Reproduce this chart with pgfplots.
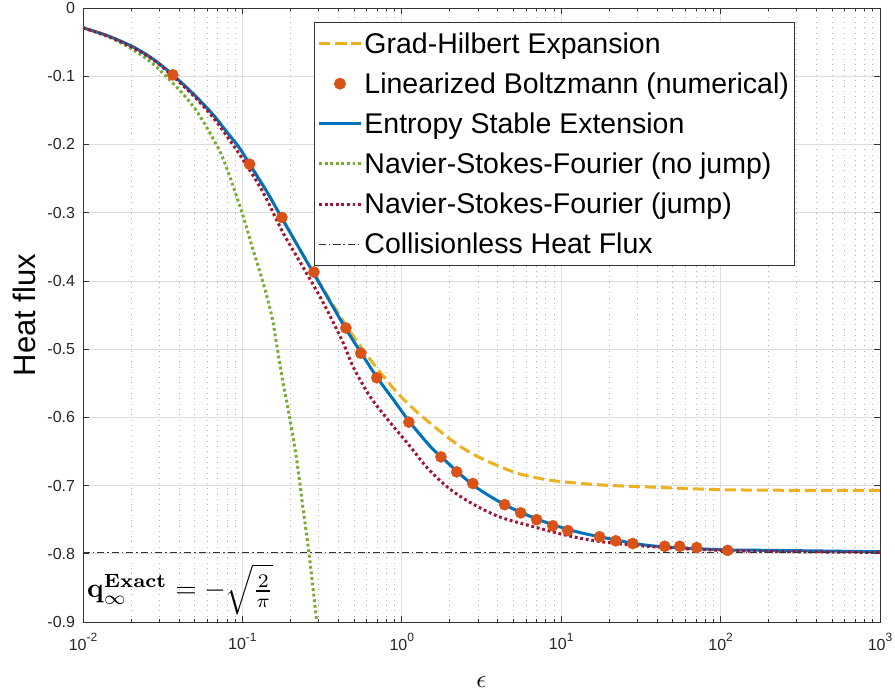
\documentclass[border=0pt]{standalone}
\usepackage{graphicx}
\usepackage[no-math]{fontspec}
\setmainfont{Liberation Sans}
\usepackage{pgfplots}
\pgfplotsset{compat=1.18}
\definecolor{mOrange}{rgb}{0.929,0.694,0.125}
\definecolor{mRed}{rgb}{0.85,0.325,0.098}
\definecolor{mBlue}{rgb}{0,0.447,0.741}
\definecolor{mGreen}{rgb}{0.466,0.674,0.188}
\definecolor{mDark}{rgb}{0.635,0.078,0.184}
\pgfplotsset{mylegimg/.style={legend image code/.code={\draw[mark repeat=2,mark phase=2,##1] plot coordinates {(0pt,0pt) (21pt,0pt) (42pt,0pt)};}}}
\newcommand{\tp}[1]{10\raisebox{0.55em}{\fontsize{12}{12}\selectfont #1}}
\begin{document}
\begin{tikzpicture}
\begin{axis}[
  scale only axis, width=797pt, height=614pt,
  xmode=log, xmin=1e-2, xmax=1e3, ymin=-0.9, ymax=0,
  xtick={1e-2,1e-1,1,10,100,1000},
  xticklabels={\tp{-2},\tp{-1},\tp{0},\tp{1},\tp{2},\tp{3}},
  ytick={-0.9,-0.8,-0.7,-0.6,-0.5,-0.4,-0.3,-0.2,-0.1,0},
  yticklabels={-0.9,-0.8,-0.7,-0.6,-0.5,-0.4,-0.3,-0.2,-0.1,0},
  minor y tick num=0,
  xticklabel style={font=\fontsize{16}{18}\selectfont, text=black!85, yshift=-7.3pt},
  yticklabel style={font=\fontsize{16}{18}\selectfont, text=black!85, xshift=-4.4pt},
  xmajorgrids, ymajorgrids, xminorgrids,
  major grid style={black!13, line width=0.6pt},
  minor grid style={black!30, line width=0.6pt, dash pattern=on 1pt off 4.3pt},
  tick align=inside, major tick length=6pt, minor tick length=3pt,
  every tick/.style={black!80, line width=0.6pt},
  axis line style={black!80, line width=0.7pt},
  xlabel={\scalebox{2.5}{$\epsilon$}},
  xlabel style={at={(axis description cs:0.5,-0.0977)}, anchor=center},
  ylabel={Heat flux},
  ylabel style={font=\fontsize{31}{35}\selectfont, at={(axis description cs:-0.074,0.5)}, anchor=center},
  legend cell align=left,
  mylegimg,
  legend style={at={(axis description cs:0.290,0.977)}, anchor=north west,
    draw=black!80, fill=white, line width=0.7pt, font=\fontsize{28.5}{33}\selectfont,
    row sep=14pt, inner xsep=3pt, inner ysep=8pt,
    nodes={inner sep=2pt, text=black}},
  clip=true,
]
% Grad-Hilbert
\addplot[mOrange, line width=3pt, dash pattern=on 11pt off 5pt, smooth, tension=0.5] coordinates {
(0.01,-0.029) (0.0144,-0.041) (0.0206,-0.057) (0.0275,-0.0748) (0.0366,-0.098) (0.05,-0.1275) (0.0653,-0.156) (0.08,-0.182) (0.0964,-0.206)
(0.143,-0.270) (0.2,-0.330) (0.3,-0.400) (0.44,-0.463) (0.6,-0.508) (0.8,-0.545)
(1.0,-0.571) (1.3,-0.596) (1.73,-0.620) (2.3,-0.642) (3.08,-0.659) (4.2,-0.673)
(5.49,-0.683) (7.5,-0.690) (9.8,-0.694) (17.4,-0.699) (34.4,-0.702) (98.6,-0.706)
(313,-0.707) (1000,-0.707)};
\addlegendentry{Grad-Hilbert Expansion}
% Linearized Boltzmann
\addplot[only marks, mark=*, mark size=5.6pt, color=mRed, fill=mRed, mylegimg] coordinates {
(0.0366,-0.098) (0.111,-0.229) (0.177,-0.307) (0.281,-0.387) (0.446,-0.469)
(0.553,-0.506) (0.697,-0.542) (1.107,-0.607) (1.76,-0.658) (2.21,-0.680)
(2.79,-0.697) (4.42,-0.728) (5.57,-0.740) (7.01,-0.750) (8.85,-0.759)
(11.0,-0.766) (17.4,-0.775) (22.0,-0.781) (28.1,-0.785) (44.6,-0.789)
(55.4,-0.789) (70.8,-0.791) (110.7,-0.795)};
\addlegendentry{Linearized Boltzmann (numerical)}
% Entropy stable
\addplot[mBlue, line width=3pt, smooth, tension=0.5] coordinates {
(0.01,-0.029) (0.0144,-0.041) (0.0206,-0.057) (0.0275,-0.0748) (0.0366,-0.098) (0.05,-0.1275) (0.0653,-0.156) (0.08,-0.182) (0.0964,-0.206)
(0.111,-0.229) (0.143,-0.270) (0.172,-0.303) (0.2767,-0.387) (0.44,-0.468)
(0.561,-0.507) (0.697,-0.541) (0.879,-0.573) (1.122,-0.607) (1.5,-0.642)
(1.73,-0.656) (2.79,-0.699) (4.42,-0.728) (7.02,-0.749) (11.3,-0.765)
(17.4,-0.775) (35.9,-0.788) (98.6,-0.794) (212,-0.795) (1000,-0.797)};
\addlegendentry{Entropy Stable Extension}
% NSF no jump
\addplot[mGreen, line width=3pt, dash pattern=on 2.8pt off 2.8pt, smooth, tension=0.5] coordinates {
(0.01,-0.029) (0.0144,-0.042) (0.0206,-0.061) (0.0275,-0.082) (0.0366,-0.110) (0.045,-0.133) (0.054,-0.158) (0.0722,-0.210)
(0.0859,-0.256) (0.1007,-0.304) (0.1165,-0.354) (0.1346,-0.402) (0.153,-0.452)
(0.164,-0.493) (0.1795,-0.548) (0.1986,-0.602) (0.220,-0.665) (0.239,-0.730)
(0.261,-0.797) (0.293,-0.900) (0.300,-0.920)};
\addlegendentry{Navier-Stokes-Fourier (no jump)}
% NSF jump
\addplot[mDark, line width=3pt, dash pattern=on 2.8pt off 2.8pt, smooth, tension=0.5] coordinates {
(0.01,-0.029) (0.0144,-0.0415) (0.0206,-0.058) (0.0275,-0.0755) (0.0366,-0.100) (0.05,-0.130) (0.0653,-0.160) (0.08,-0.188) (0.1007,-0.222)
(0.1346,-0.270) (0.1795,-0.329) (0.239,-0.379) (0.320,-0.431) (0.427,-0.490)
(0.493,-0.525) (0.630,-0.569) (0.841,-0.607) (1.122,-0.642) (1.455,-0.675)
(2.0,-0.705) (2.79,-0.727) (4.11,-0.746) (6.62,-0.760) (10.8,-0.773)
(17.4,-0.782) (34.4,-0.789) (98.6,-0.795) (300,-0.797) (1000,-0.798)};
\addlegendentry{Navier-Stokes-Fourier (jump)}
% Collisionless
\addplot[black!80, line width=1.2pt, dash pattern=on 7pt off 3pt on 1.5pt off 3pt] coordinates {
(0.01,-0.7979) (1000,-0.7979)};
\addlegendentry{Collisionless Heat Flux}
\node[anchor=west, inner sep=0pt] at (axis cs:0.0106,-0.852)
  {\scalebox{2.75}{$\mathbf{q}_\infty^{\mathbf{Exact}} = -\sqrt{\frac{2}{\pi}}$}};
\end{axis}
\pgfresetboundingbox
\path[use as bounding box] ([xshift=-83pt,yshift=-71pt]current axis.south west) rectangle ([xshift=15pt,yshift=8pt]current axis.north east);
\end{tikzpicture}
\end{document}
